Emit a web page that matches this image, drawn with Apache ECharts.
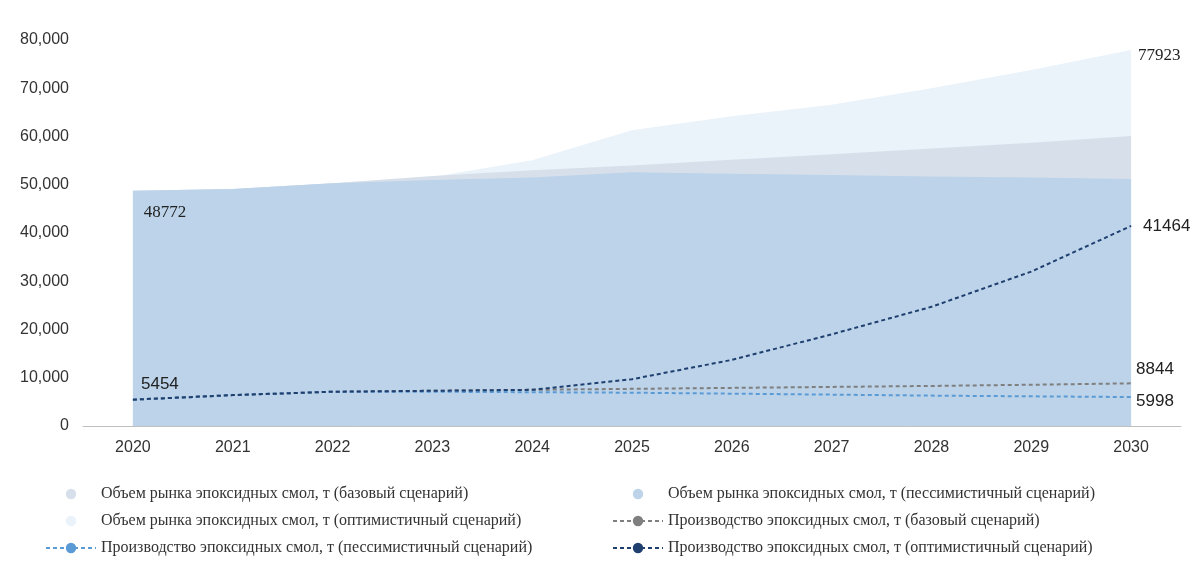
<!DOCTYPE html>
<html>
<head>
<meta charset="utf-8">
<script src="https://cdn.jsdelivr.net/npm/echarts@6/dist/echarts.min.js"></script>
<style>html,body{margin:0;padding:0;background:#fff}#container{width:1200px;height:562px}</style>
</head>
<body>
<div id="container"></div>
<script>
var years = ['2020', '2021', '2022', '2023', '2024', '2025', '2026', '2027', '2028', '2029', '2030'];
var marketBase = [48772, 49100, 50300, 51800, 53000, 54000, 55200, 56300, 57500, 58700, 60100];
var marketPess = [48772, 49100, 50300, 51000, 51500, 52600, 52300, 52000, 51700, 51500, 51200];
var marketOpt = [48772, 49100, 50300, 51600, 55100, 61300, 64200, 66600, 70000, 73800, 77923];
var prodBase = [5454, 6400, 7100, 7300, 7500, 7700, 7900, 8100, 8300, 8550, 8844];
var prodPess = [5454, 6400, 7100, 7100, 7000, 6900, 6700, 6500, 6300, 6150, 5998];
var prodOpt = [5454, 6400, 7100, 7300, 7500, 9700, 13700, 19000, 24700, 32000, 41464];

var names = [
    'Объем рынка эпоксидных смол, т (базовый сценарий)',
    'Объем рынка эпоксидных смол, т (пессимистичный сценарий)',
    'Объем рынка эпоксидных смол, т (оптимистичный сценарий)',
    'Производство эпоксидных смол, т (базовый сценарий)',
    'Производство эпоксидных смол, т (пессимистичный сценарий)',
    'Производство эпоксидных смол, т (оптимистичный сценарий)'
];

var myChart = echarts.init(document.getElementById('container'));

function lastLabel(data, color, font, pos) {
    return function (p) { return ''; };
}

function endLabel(font, offset) {
    return {
        show: true,
        position: 'right',
        offset: offset || [0, 0],
        fontFamily: font,
        fontSize: 17,
        color: '#222',
        formatter: function (p) { return p.dataIndex === 10 ? String(p.value) : ''; }
    };
}

function area(name, data, color, z) {
    return {
        name: name, type: 'line', data: data, z: z,
        symbol: 'none', lineStyle: { width: 0 },
        itemStyle: { color: color },
        areaStyle: { color: color, opacity: 1 }
    };
}

function dashed(name, data, color, z) {
    return {
        name: name, type: 'line', data: data, z: z,
        symbol: 'none',
        lineStyle: { width: 2, type: [4, 3], color: color },
        itemStyle: { color: color }
    };
}

var sOpt = area(names[2], marketOpt, '#eaf2fa', 1);
sOpt.label = endLabel('Liberation Serif', [2, 6]);
sOpt.showSymbol = true; sOpt.symbol = 'circle'; sOpt.symbolSize = 0;
var sBase = area(names[0], marketBase, '#d7e0ea', 2);
var sPess = area(names[1], marketPess, '#bcd3ea', 3);
sPess.symbol = 'circle'; sPess.symbolSize = 0;
sPess.label = {
    show: true, position: 'bottom', offset: [32, 8],
    fontFamily: 'Liberation Serif', fontSize: 17, color: '#222',
    formatter: function (p) { return p.dataIndex === 0 ? '48772' : ''; }
};
var lBase = dashed(names[3], prodBase, '#7f7f7f', 5);
lBase.symbol = 'circle'; lBase.symbolSize = 0;
lBase.label = endLabel('Liberation Sans', [0, -14]);
var lPess = dashed(names[4], prodPess, '#5b9bd5', 5);
lPess.symbol = 'circle'; lPess.symbolSize = 0;
lPess.label = endLabel('Liberation Sans', [0, 4]);
var lOpt = dashed(names[5], prodOpt, '#1f3f6e', 6);
lOpt.symbol = 'circle'; lOpt.symbolSize = 0;
lOpt.label = {
    show: true, position: 'right', fontFamily: 'Liberation Sans', fontSize: 17, color: '#222',
    offset: [0, 0],
    formatter: function (p) { return p.dataIndex === 10 ? String(p.value) : (p.dataIndex === 0 ? '5454' : ''); }
};

var legendText = { fontFamily: 'Liberation Serif', fontSize: 16, color: '#333' };

option = {
    animation: false,
    grid: { left: 83, right: 19, top: 40, bottom: 136 },
    legend: [
        {
            orient: 'vertical', left: 40, top: 481, itemGap: 11, itemWidth: 50, itemHeight: 13,
            textStyle: legendText,
            data: [names[0], names[2], names[4]]
        },
        {
            orient: 'vertical', left: 607, top: 481, itemGap: 11, itemWidth: 50, itemHeight: 13,
            textStyle: legendText,
            data: [names[1], names[3], names[5]]
        }
    ],
    xAxis: {
        type: 'category',
        data: years,
        axisLine: { lineStyle: { color: '#bfbfbf' } },
        axisTick: { show: false },
        axisLabel: { fontFamily: 'Liberation Sans', fontSize: 16, color: '#333', margin: 14 }
    },
    yAxis: {
        type: 'value', min: 0, max: 80000, interval: 10000,
        splitLine: { show: false },
        axisLabel: { fontFamily: 'Liberation Sans', fontSize: 16, color: '#333', margin: 14 }
    },
    series: [sOpt, sBase, sPess, lBase, lPess, lOpt]
};

// 5454 label sits above-right of the first point
lOpt.label.position = 'top';
lOpt.label.formatter = function (p) { return p.dataIndex === 0 ? '5454' : ''; };
lOpt.label.offset = [27, -2];
lOpt.endLabel = { show: true, fontFamily: 'Liberation Sans', fontSize: 17, color: '#222', formatter: '{c}', offset: [4, 0] };

if (option && typeof option === "object") {
    myChart.setOption(option, true);
}
window.onresize = function () {
    myChart.resize();
};
</script>
</body>
</html>
